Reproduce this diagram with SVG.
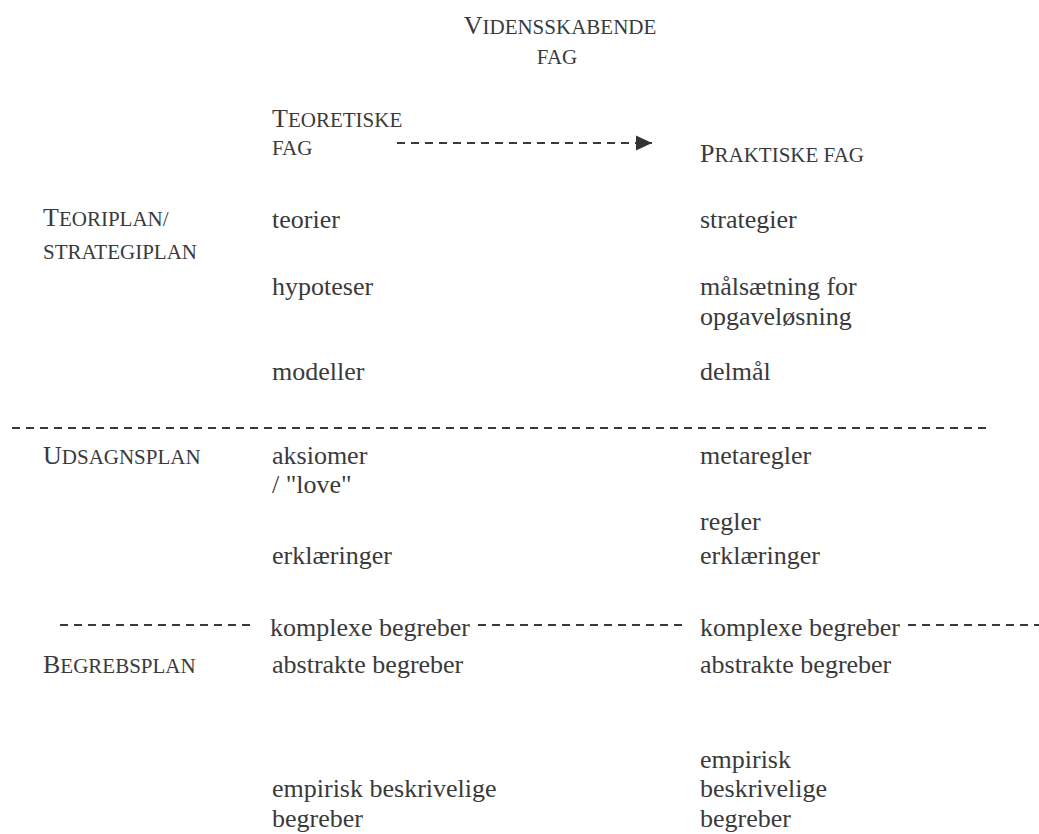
<svg xmlns="http://www.w3.org/2000/svg" width="1039" height="834" viewBox="0 0 1039 834">
  <style>
    text { font-family: "Liberation Serif", "Times New Roman", serif; font-size: 26px; fill: #3a3a3a; }
    .sc { font-size: 21px; }
    .dash { stroke: #3a3a3a; stroke-width: 1.8; stroke-dasharray: 8 6; fill: none; }
  </style>
  <defs>
    <marker id="arrow" markerWidth="18" markerHeight="18" refX="16" refY="8" orient="auto" markerUnits="userSpaceOnUse">
      <path d="M0,0.5 L16,8 L0,15.5 Z" fill="#333"/>
    </marker>
  </defs>
  <rect width="1039" height="834" fill="#fff"/>

  <!-- column headings -->
  <g id="heading-vidensskabende">
    <text x="560" y="34" text-anchor="middle">V<tspan class="sc">IDENSSKABENDE</tspan></text>
    <text x="557" y="64" text-anchor="middle" class="sc">FAG</text>
  </g>
  <g id="heading-teoretiske">
    <text x="272" y="127">T<tspan class="sc">EORETISKE</tspan></text>
    <text x="272" y="155" class="sc">FAG</text>
  </g>
  <g id="heading-praktiske">
    <text x="700" y="162">P<tspan class="sc">RAKTISKE FAG</tspan></text>
  </g>

  <!-- plane labels -->
  <g id="plan-teori">
    <text x="43" y="226">T<tspan class="sc">EORIPLAN/</tspan></text>
    <text x="43" y="259" class="sc">STRATEGIPLAN</text>
  </g>
  <g id="plan-udsagn">
    <text x="43" y="464">U<tspan class="sc">DSAGNSPLAN</tspan></text>
  </g>
  <g id="plan-begreb">
    <text x="43" y="673">B<tspan class="sc">EGREBSPLAN</tspan></text>
  </g>

  <!-- theoretical column -->
  <g id="teoretisk-teorier"><text x="272" y="228">teorier</text></g>
  <g id="teoretisk-hypoteser"><text x="272" y="295">hypoteser</text></g>
  <g id="teoretisk-modeller"><text x="272" y="380">modeller</text></g>
  <g id="teoretisk-aksiomer">
    <text x="272" y="464">aksiomer</text>
    <text x="272" y="493">/ "love"</text>
  </g>
  <g id="teoretisk-erklaeringer"><text x="272" y="564">erklæringer</text></g>
  <g id="teoretisk-komplexe"><text x="270" y="636">komplexe begreber</text></g>
  <g id="teoretisk-abstrakte"><text x="272" y="673">abstrakte begreber</text></g>
  <g id="teoretisk-empirisk">
    <text x="272" y="797">empirisk beskrivelige</text>
    <text x="272" y="827">begreber</text>
  </g>

  <!-- practical column -->
  <g id="praktisk-strategier"><text x="700" y="228">strategier</text></g>
  <g id="praktisk-maalsaetning">
    <text x="700" y="295">målsætning for</text>
    <text x="700" y="325">opgaveløsning</text>
  </g>
  <g id="praktisk-delmaal"><text x="700" y="380">delmål</text></g>
  <g id="praktisk-metaregler"><text x="700" y="464">metaregler</text></g>
  <g id="praktisk-regler">
    <text x="700" y="530">regler</text>
    <text x="700" y="564">erklæringer</text>
  </g>
  <g id="praktisk-komplexe"><text x="700" y="636">komplexe begreber</text></g>
  <g id="praktisk-abstrakte"><text x="700" y="673">abstrakte begreber</text></g>
  <g id="praktisk-empirisk">
    <text x="700" y="768">empirisk</text>
    <text x="700" y="797">beskrivelige</text>
    <text x="700" y="827">begreber</text>
  </g>

  <!-- connectors and dividers -->
  <g id="connectors">
    <line class="dash" x1="397" y1="143" x2="652" y2="143" marker-end="url(#arrow)"/>
    <line class="dash" x1="12" y1="428" x2="986" y2="428"/>
    <line class="dash" x1="60" y1="625" x2="250" y2="625"/>
    <line class="dash" x1="478" y1="625" x2="684" y2="625"/>
    <line class="dash" x1="908" y1="625" x2="1039" y2="625"/>
  </g>
</svg>
